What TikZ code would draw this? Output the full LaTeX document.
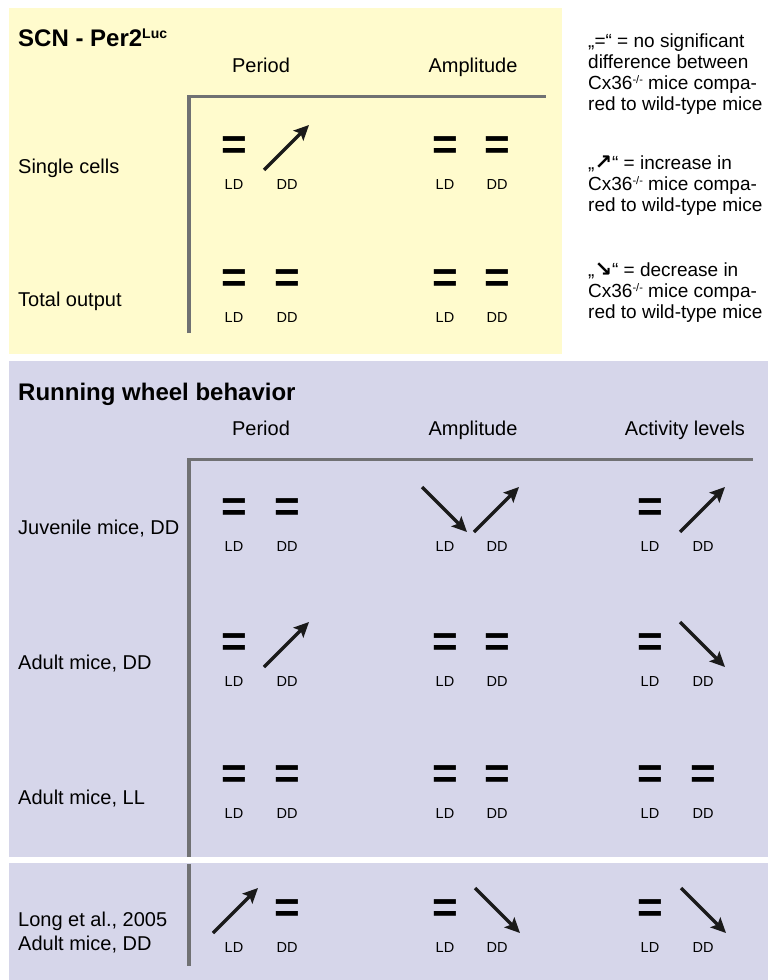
\documentclass[tikz,border=0pt]{standalone}
\usepackage{fontspec}
\setmainfont{Liberation Sans}
\newfontfamily\djv{DejaVu Sans}
\usetikzlibrary{arrows.meta}
\definecolor{panelyellow}{RGB}{255,251,205}
\definecolor{panelblue}{RGB}{214,214,234}
\definecolor{rulegray}{RGB}{112,113,115}
\definecolor{ink}{RGB}{26,26,26}
\newcommand\supsc[1]{\raisebox{6pt}{\fontsize{11}{11}\selectfont #1}}
\newcommand\legarrow[1]{{\djv\bfseries\fontsize{21}{21}\selectfont #1}}
\begin{document}
\begin{tikzpicture}[x=1pt,y=-1pt,
  rule/.style={draw=rulegray, line width=3.5pt, line join=miter},
  title/.style={font=\fontsize{24}{28}\selectfont\bfseries, anchor=base west, inner sep=0},
  hdr/.style={font=\fontsize{20}{24}\selectfont, anchor=base, inner sep=0},
  rowlab/.style={font=\fontsize{20}{24}\selectfont, anchor=base west, inner sep=0},
  cond/.style={font=\fontsize{14.5}{16}\selectfont, anchor=base, inner sep=0},
  eqsign/.style={font=\fontsize{44}{44}\selectfont\bfseries, inner sep=0, anchor=center},
  legend/.style={font=\fontsize{19}{21}\selectfont, anchor=base west, inner sep=0},
  trend/.style={draw=ink, line width=3.5pt, -{Stealth[length=15pt,width=14pt,inset=3pt]}},
]
\useasboundingbox (0,0) rectangle (768,980);
% panels
\fill[panelyellow] (9,8) rectangle (562,354);
\fill[panelblue] (9,361) rectangle (768,857);
\fill[panelblue] (9,863) rectangle (768,980);

% ---------- SCN panel ----------
\node[title] (t1) at (18,46) {SCN - Per2\raisebox{8pt}{\fontsize{14}{14}\selectfont Luc}};
\node[hdr] (p1) at (261,72) {Period};
\node[hdr] (a1) at (473,72) {Amplitude};
\draw[rule] (189,333) -- (189,96.5) -- (546,96.5);
\node[rowlab] (r1) at (18,173) {Single cells};
\node[rowlab] (r2) at (18,306) {Total output};

% Single cells row (148)
\node[eqsign] (e11) at (234,148) {=};
\coordinate (u12s) at (264,170); \coordinate (u12e) at (309,125);
\draw[trend] (u12s) -- (u12e);
\node[eqsign] (e13) at (445,148) {=};
\node[eqsign] (e14) at (497,148) {=};
\foreach \x/\t [count=\i] in {234/LD,287/DD,445/LD,497/DD}
  \node[cond] (c1\i) at (\x,189) {\t};

% Total output row (281)
\foreach \x [count=\i] in {234,287,445,497}
  \node[eqsign] (e2\i) at (\x,281) {=};
\foreach \x/\t [count=\i] in {234/LD,287/DD,445/LD,497/DD}
  \node[cond] (c2\i) at (\x,322) {\t};

% Legend
\node[legend] (l1) at (588,47) {„=“ = no significant};
\node[legend] (l2) at (588,68) {difference between};
\node[legend] (l3) at (588,89) {Cx36\supsc{-/-} mice compa-};
\node[legend] (l4) at (588,110) {red to wild-type mice};
\node[legend] (l5) at (588,169) {„\legarrow{↗}“ = increase in};
\node[legend] (l6) at (588,190) {Cx36\supsc{-/-} mice compa-};
\node[legend] (l7) at (588,211) {red to wild-type mice};
\node[legend] (l8) at (588,276) {„\legarrow{↘}“ = decrease in};
\node[legend] (l9) at (588,297) {Cx36\supsc{-/-} mice compa-};
\node[legend] (l10) at (588,318) {red to wild-type mice};

% ---------- Running wheel panel ----------
\node[title] (t2) at (18,400) {Running wheel behavior};
\node[hdr] (p2) at (261,435) {Period};
\node[hdr] (a2) at (473,435) {Amplitude};
\node[hdr] (v2) at (685,435) {Activity levels};
\draw[rule] (189,857) -- (189,459.5) -- (753,459.5);
\draw[rule] (189,864) -- (189,966);
\node[rowlab] (r3) at (18,534) {Juvenile mice, DD};
\node[rowlab] (r4) at (18,669) {Adult mice, DD};
\node[rowlab] (r5) at (18,804) {Adult mice, LL};
\node[rowlab] (r6) at (18,926) {Long et al., 2005};
\node[rowlab] (r7) at (18,950) {Adult mice, DD};

% Juvenile row (510)
\node[eqsign] (e31) at (234,510) {=};
\node[eqsign] (e32) at (287,510) {=};
\coordinate (d33s) at (422,487); \coordinate (d33e) at (467,532);
\draw[trend] (d33s) -- (d33e);
\coordinate (u34s) at (474,532); \coordinate (u34e) at (519,487);
\draw[trend] (u34s) -- (u34e);
\node[eqsign] (e35) at (650,510) {=};
\coordinate (u36s) at (680,532); \coordinate (u36e) at (725,487);
\draw[trend] (u36s) -- (u36e);

% Adult DD row (645)
\node[eqsign] (e41) at (234,645) {=};
\coordinate (u42s) at (264,667); \coordinate (u42e) at (309,622);
\draw[trend] (u42s) -- (u42e);
\node[eqsign] (e43) at (445,645) {=};
\node[eqsign] (e44) at (497,645) {=};
\node[eqsign] (e45) at (650,645) {=};
\coordinate (d46s) at (680,622); \coordinate (d46e) at (725,667);
\draw[trend] (d46s) -- (d46e);

% Adult LL row (777)
\foreach \x [count=\i] in {234,287,445,497,650,703}
  \node[eqsign] (e5\i) at (\x,777) {=};

% Long et al. row (911)
\coordinate (u61s) at (213,933); \coordinate (u61e) at (258,888);
\draw[trend] (u61s) -- (u61e);
\node[eqsign] (e62) at (287,911) {=};
\node[eqsign] (e63) at (445,911) {=};
\coordinate (d64s) at (475,888); \coordinate (d64e) at (520,933);
\draw[trend] (d64s) -- (d64e);
\node[eqsign] (e65) at (650,911) {=};
\coordinate (d66s) at (681,888); \coordinate (d66e) at (726,933);
\draw[trend] (d66s) -- (d66e);

% condition labels, bottom rows
\foreach \yy/\rr in {551/3,686/4,818/5,952/6}
  \foreach \x/\t [count=\i] in {234/LD,287/DD,445/LD,497/DD,650/LD,703/DD}
    \node[cond] (c\rr\i) at (\x,\yy) {\t};
\end{tikzpicture}
\end{document}
